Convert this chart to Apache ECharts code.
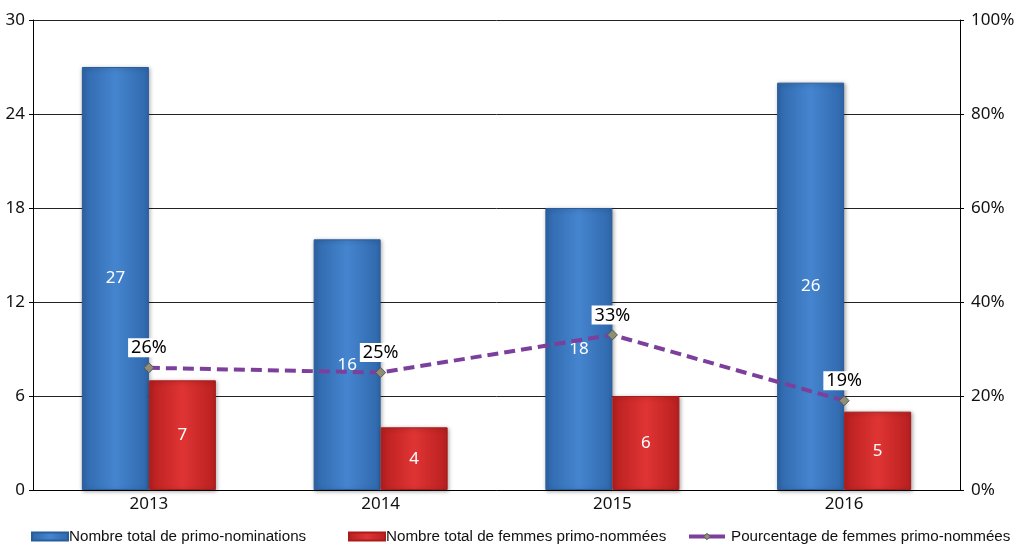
<!DOCTYPE html>
<html>
<head>
<meta charset="utf-8">
<script src="https://cdn.jsdelivr.net/npm/echarts@6/dist/echarts.min.js"></script>
<style>
  html, body { margin: 0; padding: 0; background: #fff; }
  #chart { width: 1027px; height: 544px; }
</style>
</head>
<body>
<div id="chart"></div>
<script>
const years = ['2013', '2014', '2015', '2016'];
const totalNominations = [27, 16, 18, 26];
const womenNominated = [7, 4, 6, 5];
const womenShare = [26, 25, 33, 19];

const countTicks = [0, 6, 12, 18, 24, 30];

const SERIES_TOTAL = 'Nombre total de primo-nominations';
const SERIES_WOMEN = 'Nombre total de femmes primo-nommées';
const SERIES_SHARE = 'Pourcentage de femmes primo-nommées';

const FONT = '"Noto Sans", "DejaVu Sans", sans-serif';
const NARROW = '"Liberation Sans Narrow", "Liberation Sans", sans-serif';

function barGradient(edge, mid) {
  return new echarts.graphic.LinearGradient(0, 0, 1, 0, [
    { offset: 0, color: edge },
    { offset: 0.5, color: mid },
    { offset: 1, color: edge }
  ]);
}

// one legend block per series so each entry sits at its own spot
function legendBlock(left, entry, textPad) {
  return {
    left: left,
    top: 524,
    itemWidth: 36,
    itemHeight: 8,
    textStyle: { fontFamily: NARROW, fontSize: 15.2, color: '#111', padding: textPad },
    data: [entry]
  };
}

const chart = echarts.init(document.getElementById('chart'), null, { renderer: 'canvas' });

chart.setOption({
  animation: false,
  backgroundColor: '#ffffff',
  grid: { left: 33, right: 67, top: 20, bottom: 54, containLabel: false },
  legend: [
    legendBlock(26, { name: SERIES_TOTAL, icon: 'rect' }, [0, 0, 0, -4]),
    legendBlock(343, { name: SERIES_WOMEN, icon: 'rect' }, [0, 0, 0, -4]),
    legendBlock(682, {
      name: SERIES_SHARE,
      lineStyle: { type: 'solid', width: 4, color: '#7d3f9c' },
      itemStyle: { color: '#8f8f78', borderColor: '#555', borderWidth: 1 }
    }, [0, 0, 0, 1])
  ],
  xAxis: {
    type: 'category',
    data: years,
    axisLine: { lineStyle: { color: '#000', width: 1 } },
    axisTick: { show: false },
    axisLabel: { fontFamily: FONT, fontSize: 17, color: '#111', margin: 6 }
  },
  yAxis: [
    {
      type: 'value',
      min: countTicks[0],
      max: countTicks[countTicks.length - 1],
      interval: 6,
      axisLine: { show: true, lineStyle: { color: '#000' } },
      axisTick: { show: true, length: 4, lineStyle: { color: '#000' } },
      axisLabel: { fontFamily: FONT, fontSize: 17, color: '#111', margin: 8 },
      splitLine: { lineStyle: { color: '#222', width: 1 } }
    },
    {
      type: 'value',
      min: 0,
      max: 100,
      interval: 20,
      position: 'right',
      axisLine: { show: true, lineStyle: { color: '#000' } },
      axisTick: { show: true, length: 4, lineStyle: { color: '#000' } },
      axisLabel: { fontFamily: FONT, fontSize: 17, color: '#111', margin: 11, formatter: '{value}%' },
      splitLine: { show: false }
    }
  ],
  series: [
    {
      name: SERIES_TOTAL,
      type: 'bar',
      data: totalNominations,
      barWidth: 67,
      barGap: '0%',
      itemStyle: {
        color: barGradient('#2f67ab', '#4585cf'),
        borderColor: '#2a5d9c',
        borderWidth: 1,
        shadowColor: 'rgba(0,0,0,0.35)',
        shadowBlur: 4,
        shadowOffsetX: 1,
        shadowOffsetY: 1
      },
      label: { show: true, position: 'inside', color: '#fff', fontFamily: FONT, fontSize: 17 }
    },
    {
      name: SERIES_WOMEN,
      type: 'bar',
      data: womenNominated,
      barWidth: 67,
      itemStyle: {
        color: barGradient('#b81f1f', '#e03434'),
        borderColor: '#a81c1c',
        borderWidth: 1,
        shadowColor: 'rgba(0,0,0,0.35)',
        shadowBlur: 4,
        shadowOffsetX: 1,
        shadowOffsetY: 1
      },
      label: { show: true, position: 'inside', color: '#fff', fontFamily: FONT, fontSize: 17 }
    },
    {
      name: SERIES_SHARE,
      type: 'line',
      yAxisIndex: 1,
      data: womenShare,
      symbol: 'diamond',
      symbolSize: 10,
      lineStyle: { color: '#7d3f9c', width: 4, type: [11, 6] },
      itemStyle: { color: '#8f8f78', borderColor: '#555', borderWidth: 1 },
      z: 5,
      label: {
        show: true,
        position: 'top',
        distance: 5,
        formatter: '{c}%',
        color: '#000',
        fontFamily: FONT,
        fontSize: 18,
        backgroundColor: '#fff',
        padding: [1, 3, 0, 3]
      }
    }
  ]
});
</script>
</body>
</html>
